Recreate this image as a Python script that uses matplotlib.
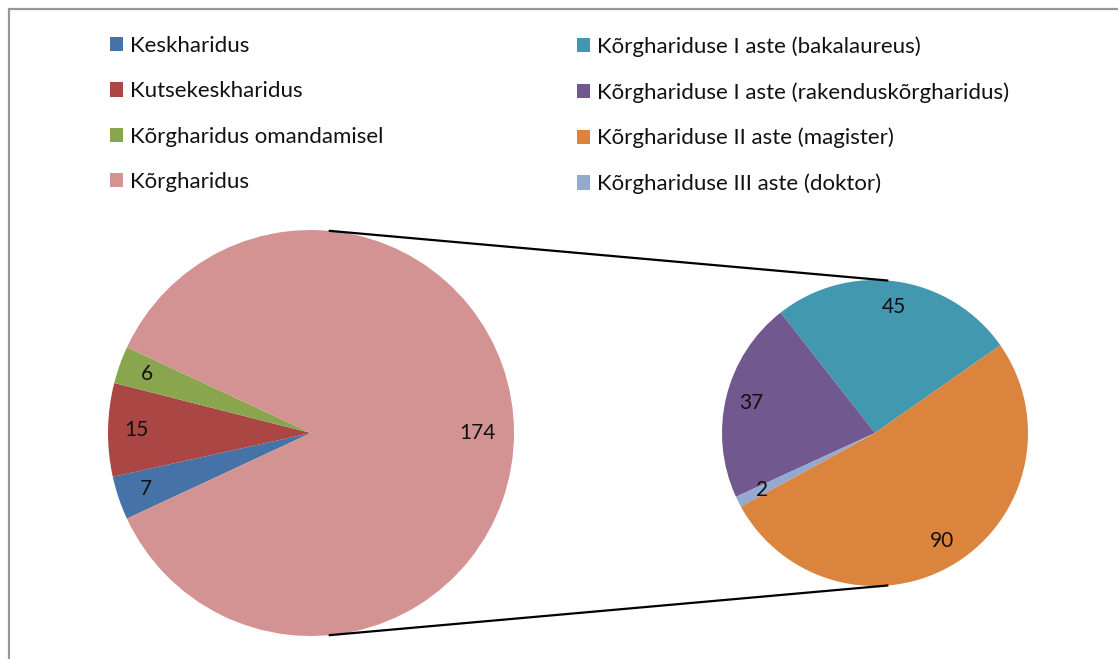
import matplotlib
matplotlib.use("Agg")
import matplotlib.pyplot as plt
from matplotlib.patches import Patch, Rectangle
import numpy as np

plt.rcParams['font.family'] = ['Lato', 'DejaVu Sans']

# Main pie
main_labels = ["Keskharidus", "Kutsekeskharidus", "Kõrgharidus omandamisel", "Kõrgharidus"]
main_values = [7, 15, 6, 174]
main_colors = ["#4572A7", "#AA4643", "#89A54E", "#D29392"]

# Secondary pie (split of "Kõrgharidus")
sub_labels = ["Kõrghariduse I aste (bakalaureus)",
              "Kõrghariduse I aste (rakenduskõrgharidus)",
              "Kõrghariduse II aste (magister)",
              "Kõrghariduse III aste (doktor)"]
sub_values = [45, 37, 90, 2]
sub_colors = ["#4198AF", "#71588F", "#DB843D", "#93A9CF"]

W, H = 1118, 659
fig = plt.figure(figsize=(W / 100, H / 100), dpi=100)
ax = fig.add_axes([0, 0, 1, 1])
ax.set_xlim(0, W)
ax.set_ylim(0, H)
ax.set_aspect('equal')
ax.axis('off')

# chart frame
fig.patches.append(Rectangle((8.5 / W, -0.1), 1.2, (H - 8.5) / H + 0.1,
                             transform=fig.transFigure, fill=False,
                             edgecolor="#979797", linewidth=1.6))

c1, r1 = (311, 226), 203
c2, r2 = (875, 226), 153

small_total = sum(main_values[:3])
start1 = 180 + small_total / sum(main_values) * 360 / 2

def fmt_factory(vals):
    tot = sum(vals)
    def f(p):
        return "%d" % round(p * tot / 100)
    return f

w1, t1, a1 = ax.pie(main_values, colors=main_colors, center=c1, radius=r1,
                    startangle=start1, counterclock=False,
                    autopct=fmt_factory(main_values), pctdistance=0.86,
                    wedgeprops=dict(linewidth=0),
                    textprops=dict(fontsize=15, color="#111111"))
a1[3].set_position((c1[0] + 0.82 * r1, c1[1]))

# draw order in secondary pie: bakalaureus, rakendus, doktor, magister (counter-clockwise)
order = [0, 1, 3, 2]
vals2 = [sub_values[i] for i in order]
cols2 = [sub_colors[i] for i in order]
w2, t2, a2 = ax.pie(vals2, colors=cols2, center=c2, radius=r2,
                    startangle=35, counterclock=True,
                    autopct=fmt_factory(vals2), pctdistance=0.83,
                    wedgeprops=dict(linewidth=0),
                    textprops=dict(fontsize=15, color="#111111"))
ax.set_xlim(0, W)
ax.set_ylim(0, H)

# connector lines
ang = np.deg2rad(85)
for s in (1, -1):
    p1 = (c1[0] + r1 * np.cos(ang), c1[1] + s * r1 * np.sin(ang))
    p2 = (c2[0] + r2 * np.cos(ang), c2[1] + s * r2 * np.sin(ang))
    ax.plot([p1[0], p2[0]], [p1[1], p2[1]], color="black", linewidth=1.6,
            solid_capstyle='butt')

# legends
h1 = [Patch(facecolor=c, edgecolor='none') for c in main_colors]
h2 = [Patch(facecolor=c, edgecolor='none') for c in sub_colors]
leg_kw = dict(frameon=False, fontsize=16, handlelength=0.6, handleheight=0.6,
              handletextpad=0.3, labelspacing=1.14, borderpad=0, borderaxespad=0,
              loc='upper left')
leg1 = fig.legend(h1, main_labels, bbox_to_anchor=(110 / W, 1 - 36 / H), **leg_kw)
leg2 = fig.legend(h2, sub_labels, bbox_to_anchor=(577 / W, 1 - 36 / H), **leg_kw)
for leg in (leg1, leg2):
    for t in leg.get_texts():
        t.set_color("#111111")

fig.savefig("out.png", dpi=100, facecolor="white")
